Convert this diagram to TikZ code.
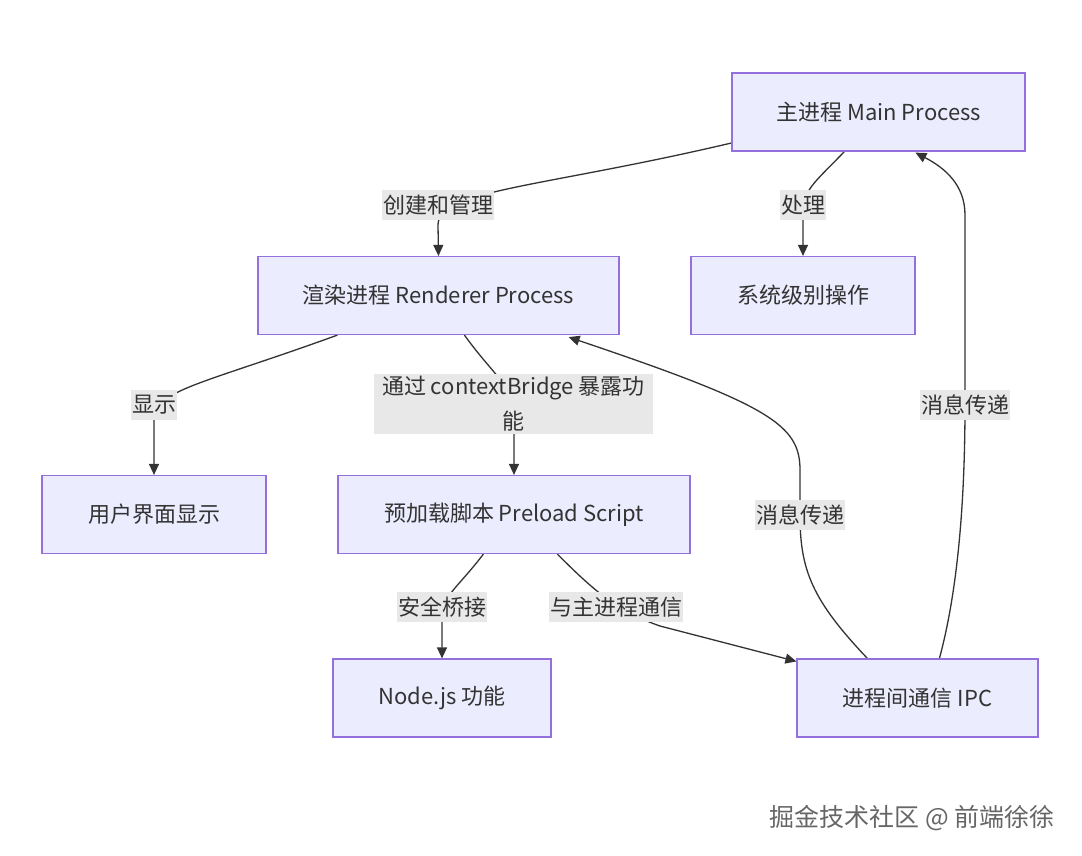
\documentclass[tikz,border=0pt]{standalone}
\usepackage{fontspec}
\setmainfont{Noto Sans CJK SC}
\usetikzlibrary{arrows.meta,calc,backgrounds}
\definecolor{boxfill}{HTML}{ECECFF}
\definecolor{boxline}{HTML}{9370DB}
\definecolor{edgecol}{HTML}{333333}
\definecolor{labbg}{HTML}{E8E8E8}
\definecolor{txt}{HTML}{333333}
\tikzset{
  procbox/.style={draw=boxline, fill=boxfill, line width=1.2pt, minimum height=78pt, inner sep=0pt, text=txt, font=\fontsize{22}{26}\selectfont},
  edge/.style={draw=edgecol, line width=1.3pt, -{Triangle[length=11pt,width=10pt]}},
  elabel/.style={fill=labbg, text=txt, inner xsep=1pt, inner ysep=5pt, font=\fontsize{22}{35}\selectfont}
}
\begin{document}
\begin{tikzpicture}[x=1pt,y=-1pt]
\useasboundingbox (0,0) rectangle (1082,855);
% boxes
\node[procbox, minimum width=293pt] (main) at (878.5,112) {主进程 Main Process};
\node[procbox, minimum width=361pt] (rend) at (438.5,295.5) {渲染进程 Renderer Process};
\node[procbox, minimum width=224pt] (sys) at (803,295.5) {系统级别操作};
\node[procbox, minimum width=224pt] (ui) at (154,514.5) {用户界面显示};
\node[procbox, minimum width=352pt] (pre) at (514,514.5) {预加载脚本 Preload Script};
\node[procbox, minimum width=218pt] (nodejs) at (442,698) {Node.js 功能};
\node[procbox, minimum width=241pt] (ipc) at (917.5,698) {进程间通信 IPC};
% edge labels
\node[elabel] (l1) at (438,205) {创建和管理};
\node[elabel] (l2) at (803,205) {处理};
\node[elabel] (l3) at (154,405) {显示};
\node[elabel, align=center, inner xsep=8pt, inner ysep=2pt] (l4) at (513.5,404) {通过 contextBridge 暴露功\\能};
\node[elabel] (l5) at (442,607) {安全桥接};
\node[elabel] (l6) at (616,607) {与主进程通信};
\node[elabel] (l7) at (800,515) {消息传递};
\node[elabel] (l8) at (965,405) {消息传递};
% watermark
\node[text=black!60, font=\fontsize{25}{30}\selectfont, anchor=east] (wm) at (1058,818) {掘金技术社区 @ 前端徐徐};
% edges
\begin{scope}[on background layer]
\fill[white] (0,0) rectangle (1082,855);
\draw[edge] ($(main.west)+(0,31)$) .. controls (540,188) and (438,190) .. (438,225) -- (rend.north);
\draw[edge] ($(main.south west)+(113,0)$) .. controls (812,185) and (803,190) .. (803,215) -- (sys.north);
\draw[edge] ($(rend.south west)+(80,0)$) .. controls (200,385) and (154,390) .. (154,420) -- (ui.north);
\draw[edge] ($(rend.south west)+(207,0)$) .. controls (497,380) and (514,385) .. (514,420) -- (pre.north);
\draw[edge] ($(pre.south west)+(146,0)$) .. controls (456,590) and (442,595) .. (442,620) -- (nodejs.north);
\draw[edge] ($(pre.south west)+(220,0)$) .. controls (598,595) and (620,612) .. (660,626) -- ($(ipc.north west)+(0,3)$);
\draw[edge] ($(ipc.north west)+(71,0)$) .. controls (812,600) and (800,570) .. (800,515) -- (800,470) .. controls (800,425) and (770,405) .. ($(rend.south east)+(-51,2)$);
\draw[edge] ($(ipc.north west)+(143,0)$) .. controls (958,590) and (965,500) .. (965,405) -- (965,215) .. controls (965,185) and (945,168) .. ($(main.south west)+(184,1)$);
\end{scope}
\end{tikzpicture}
\end{document}
